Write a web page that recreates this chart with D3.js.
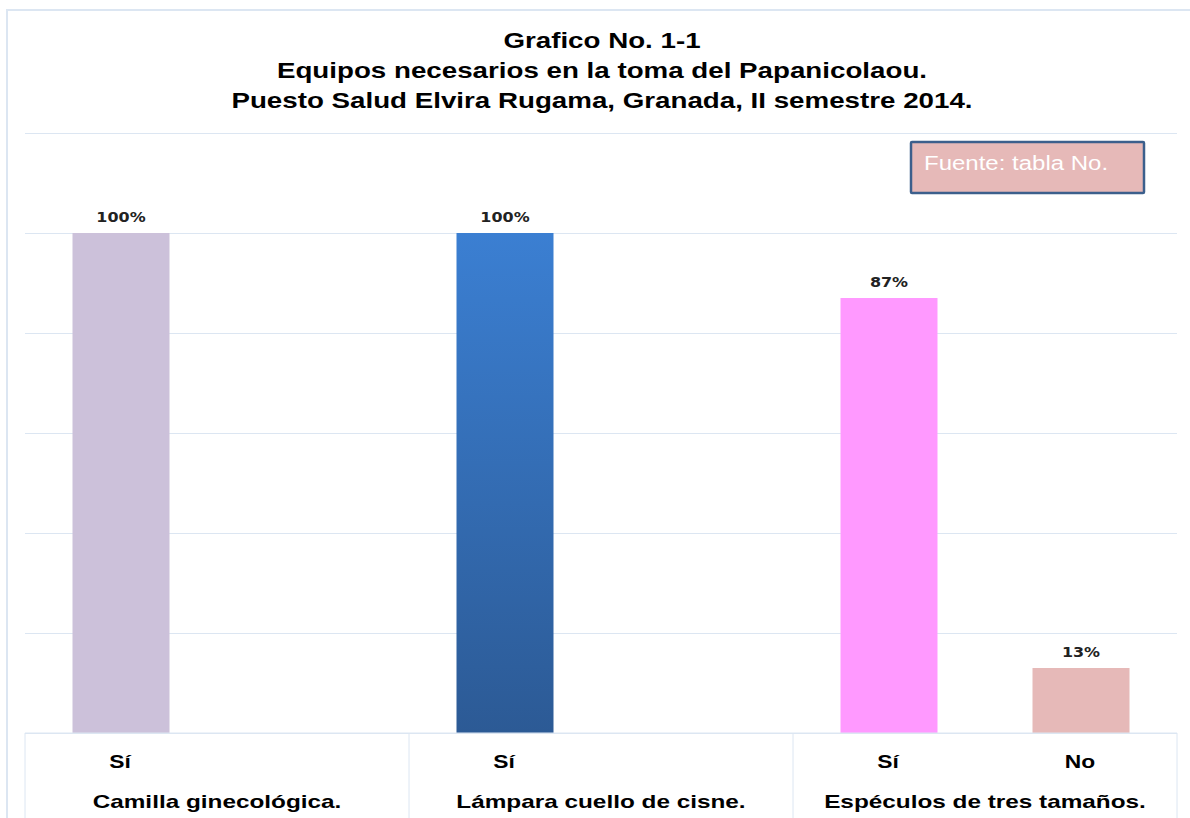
<!DOCTYPE html>
<html>
<head>
<meta charset="utf-8">
<script src="https://cdn.jsdelivr.net/npm/d3@7"></script>
<style>
  body { margin: 0; background: #fff; }
  #chart { width: 1190px; height: 818px; }
</style>
</head>
<body>
<div id="chart"></div>
<script>
// data
var groups = ["Camilla ginecológica.", "Lámpara cuello de cisne.", "Espéculos de tres tamaños."];
var answers = ["Sí", "No"];
var barGroups = [0, 1, 2, 2];
var barAnswers = ["Sí", "Sí", "Sí", "No"];
var values = [100, 100, 87, 13];
var barColors = ["#ccc1da", "url(#blueGrad)", "#ff99ff", "#e6b9b8"];
var titleLines = ["Grafico No. 1-1", "Equipos necesarios en la toma del Papanicolaou.", "Puesto Salud Elvira Rugama, Granada, II semestre 2014."];
var yTicks = [0, 20, 40, 60, 80, 100, 120];

(function() {
    var width = 1190;
    var height = 818;
    var left = 25, right = 1177, top = 133, bottom = 733;

    // the original text is drawn wider than the font, stretch it a bit
    function stretch(sel, k) {
        sel.each(function() {
            var w = this.getComputedTextLength();
            d3.select(this)
                .attr("textLength", w * k)
                .attr("lengthAdjust", "spacingAndGlyphs");
        });
    }

    var svg = d3.select("#chart")
        .append("svg")
        .attr("width", width)
        .attr("height", height);

    var defs = svg.append("defs");
    var grad = defs.append("linearGradient")
        .attr("id", "blueGrad")
        .attr("x1", 0).attr("y1", 0).attr("x2", 0).attr("y2", 1);
    grad.append("stop").attr("offset", "0%").attr("stop-color", "#3b7fd2");
    grad.append("stop").attr("offset", "100%").attr("stop-color", "#2c5a95");

    // outer frame (left and top edges visible)
    svg.append("path")
        .attr("d", "M7,818 V10 H1190")
        .attr("fill", "none")
        .attr("stroke", "#dce6f2")
        .attr("stroke-width", 2);

    var x = d3.scaleBand().domain(d3.range(groups.length)).range([left, right]);
    var xSub = d3.scaleBand().domain(answers).range([0, x.bandwidth()]);
    var y = d3.scaleLinear().domain([0, 120]).range([bottom, top]);
    var barW = 97;

    // gridlines
    svg.append("g")
        .attr("transform", "translate(" + left + ",0)")
        .call(d3.axisLeft(y).tickValues(yTicks).tickSize(-(right - left)).tickFormat(""))
        .call(g => g.select(".domain").remove())
        .call(g => g.selectAll(".tick line").attr("stroke", "#dce6f2").attr("stroke-width", 1));

    // bars
    var bars = values.map((v, i) => ({ v: v, g: barGroups[i], a: barAnswers[i], c: barColors[i] }));
    var cx = d => x(d.g) + xSub(d.a) + xSub.bandwidth() / 2;

    svg.selectAll("rect.bar")
        .data(bars)
        .enter().append("rect")
        .attr("class", "bar")
        .attr("x", d => cx(d) - barW / 2)
        .attr("width", barW)
        .attr("y", d => y(d.v))
        .attr("height", d => y(0) - y(d.v))
        .attr("fill", d => d.c);

    svg.selectAll("text.val")
        .data(bars)
        .enter().append("text")
        .attr("class", "val")
        .attr("x", d => cx(d))
        .attr("y", d => y(d.v) - 11)
        .attr("text-anchor", "middle")
        .attr("font-family", "'DejaVu Sans', sans-serif")
        .attr("font-weight", "bold")
        .attr("font-size", 14.5)
        .attr("fill", "#222")
        .text(d => d.v + "%")
        .call(stretch, 1.1);

    // category table at the bottom
    var axisG = svg.append("g");
    axisG.append("line")
        .attr("x1", left).attr("x2", right)
        .attr("y1", bottom).attr("y2", bottom)
        .attr("stroke", "#dce6f2");
    axisG.selectAll("line.sep")
        .data(d3.range(groups.length + 1))
        .enter().append("line")
        .attr("class", "sep")
        .attr("x1", d => d < groups.length ? x(d) : right)
        .attr("x2", d => d < groups.length ? x(d) : right)
        .attr("y1", bottom).attr("y2", height)
        .attr("stroke", "#dce6f2");

    axisG.selectAll("text.ans")
        .data(bars)
        .enter().append("text")
        .attr("class", "ans")
        .attr("x", d => cx(d) - 1)
        .attr("y", 768)
        .attr("text-anchor", "middle")
        .attr("font-family", "'Liberation Sans', Arial, sans-serif")
        .attr("font-weight", "bold")
        .attr("font-size", 19)
        .text(d => d.a)
        .call(stretch, 1.2);

    axisG.selectAll("text.grp")
        .data(groups)
        .enter().append("text")
        .attr("class", "grp")
        .attr("x", (d, i) => x(i) + x.bandwidth() / 2)
        .attr("y", 808)
        .attr("text-anchor", "middle")
        .attr("font-family", "'Liberation Sans', Arial, sans-serif")
        .attr("font-weight", "bold")
        .attr("font-size", 19)
        .text(d => d)
        .call(stretch, 1.28);

    // title
    svg.selectAll("text.title")
        .data(titleLines)
        .enter().append("text")
        .attr("class", "title")
        .attr("x", 602)
        .attr("y", (d, i) => 48 + i * 30)
        .attr("text-anchor", "middle")
        .attr("font-family", "'Liberation Sans', Arial, sans-serif")
        .attr("font-weight", "bold")
        .attr("font-size", 22)
        .text(d => d)
        .call(stretch, 1.26);

    // source box
    svg.append("rect")
        .attr("x", 911).attr("y", 142)
        .attr("width", 233).attr("height", 51)
        .attr("fill", "#e6b9b8")
        .attr("stroke", "#3c5f8c")
        .attr("stroke-width", 2.5)
        .attr("rx", 1);
    svg.append("text")
        .attr("x", 924).attr("y", 170)
        .attr("font-family", "'Liberation Sans', Arial, sans-serif")
        .attr("font-size", 20)
        .attr("fill", "#fff")
        .text("Fuente: tabla No.")
        .call(stretch, 1.2);
})();
</script>
</body>
</html>
